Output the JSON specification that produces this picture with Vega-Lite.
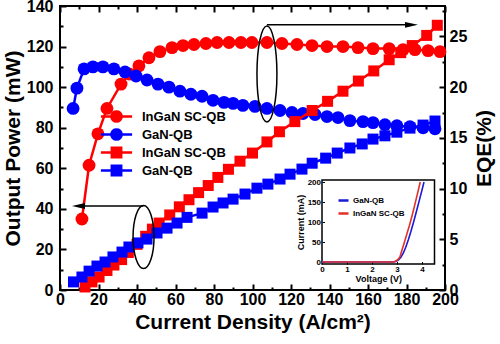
{
  "$schema": "https://vega.github.io/schema/vega-lite/v6.json",
  "width": 385,
  "height": 284,
  "autosize": "none",
  "padding": {"left": 60, "top": 6, "right": 55, "bottom": 54},
  "background": "white",
  "config": {
    "font": "Liberation Sans",
    "view": {"stroke": "#000", "strokeWidth": 2},
    "axis": {"domain": false, "grid": false, "tickColor": "#000", "tickWidth": 2, "labelFont": "Liberation Sans", "labelFontWeight": "bold", "labelColor": "#000", "titleFont": "Liberation Sans", "titleFontWeight": "bold", "titleColor": "#000", "labelFlush": false, "labelOverlap": false}
  },
  "datasets": {
    "power": [
      {"s": "InGaN SC-QB (P)", "x": 13, "y": 1.5}, {"s": "InGaN SC-QB (P)", "x": 16.6, "y": 4}, {"s": "InGaN SC-QB (P)", "x": 20.3, "y": 6.4}, {"s": "InGaN SC-QB (P)", "x": 24.4, "y": 9.6}, {"s": "InGaN SC-QB (P)", "x": 28, "y": 12.3}, {"s": "InGaN SC-QB (P)", "x": 32, "y": 15}, {"s": "InGaN SC-QB (P)", "x": 35.5, "y": 18.5}, {"s": "InGaN SC-QB (P)", "x": 40, "y": 22.5}, {"s": "InGaN SC-QB (P)", "x": 44.5, "y": 26.5}, {"s": "InGaN SC-QB (P)", "x": 48, "y": 30}, {"s": "InGaN SC-QB (P)", "x": 51.5, "y": 33}, {"s": "InGaN SC-QB (P)", "x": 57, "y": 37}, {"s": "InGaN SC-QB (P)", "x": 62, "y": 41}, {"s": "InGaN SC-QB (P)", "x": 67, "y": 44.5}, {"s": "InGaN SC-QB (P)", "x": 72, "y": 48}, {"s": "InGaN SC-QB (P)", "x": 77, "y": 51.5}, {"s": "InGaN SC-QB (P)", "x": 82, "y": 55.5}, {"s": "InGaN SC-QB (P)", "x": 87.5, "y": 59.5}, {"s": "InGaN SC-QB (P)", "x": 93.5, "y": 63.5}, {"s": "InGaN SC-QB (P)", "x": 100, "y": 67.5}, {"s": "InGaN SC-QB (P)", "x": 107.5, "y": 73}, {"s": "InGaN SC-QB (P)", "x": 114, "y": 78}, {"s": "InGaN SC-QB (P)", "x": 122, "y": 83}, {"s": "InGaN SC-QB (P)", "x": 131, "y": 88.5}, {"s": "InGaN SC-QB (P)", "x": 139, "y": 93}, {"s": "InGaN SC-QB (P)", "x": 147, "y": 98}, {"s": "InGaN SC-QB (P)", "x": 155, "y": 103}, {"s": "InGaN SC-QB (P)", "x": 163, "y": 108}, {"s": "InGaN SC-QB (P)", "x": 171, "y": 113.5}, {"s": "InGaN SC-QB (P)", "x": 177, "y": 117}, {"s": "InGaN SC-QB (P)", "x": 183, "y": 120.5}, {"s": "InGaN SC-QB (P)", "x": 190.5, "y": 125.5}, {"s": "InGaN SC-QB (P)", "x": 196, "y": 130.5},
      {"s": "GaN-QB (P)", "x": 7, "y": 4}, {"s": "GaN-QB (P)", "x": 11.4, "y": 6.4}, {"s": "GaN-QB (P)", "x": 15.1, "y": 9.3}, {"s": "GaN-QB (P)", "x": 19.2, "y": 11.8}, {"s": "GaN-QB (P)", "x": 23.4, "y": 13.8}, {"s": "GaN-QB (P)", "x": 27.5, "y": 16.3}, {"s": "GaN-QB (P)", "x": 32.2, "y": 18.7}, {"s": "GaN-QB (P)", "x": 35.8, "y": 21.2}, {"s": "GaN-QB (P)", "x": 40.5, "y": 23.2}, {"s": "GaN-QB (P)", "x": 45.2, "y": 25.1}, {"s": "GaN-QB (P)", "x": 50.4, "y": 28.1}, {"s": "GaN-QB (P)", "x": 55.6, "y": 30.5}, {"s": "GaN-QB (P)", "x": 60.8, "y": 33}, {"s": "GaN-QB (P)", "x": 66, "y": 35.8}, {"s": "GaN-QB (P)", "x": 73.8, "y": 37.9}, {"s": "GaN-QB (P)", "x": 79.5, "y": 40.9}, {"s": "GaN-QB (P)", "x": 84.7, "y": 42.9}, {"s": "GaN-QB (P)", "x": 89.9, "y": 44.8}, {"s": "GaN-QB (P)", "x": 96.1, "y": 47.3}, {"s": "GaN-QB (P)", "x": 102.3, "y": 50.2}, {"s": "GaN-QB (P)", "x": 108, "y": 52.2}, {"s": "GaN-QB (P)", "x": 114.3, "y": 54.7}, {"s": "GaN-QB (P)", "x": 119.5, "y": 57.1}, {"s": "GaN-QB (P)", "x": 125.7, "y": 59.6}, {"s": "GaN-QB (P)", "x": 131, "y": 62.5}, {"s": "GaN-QB (P)", "x": 138, "y": 65}, {"s": "GaN-QB (P)", "x": 144, "y": 67.5}, {"s": "GaN-QB (P)", "x": 150.6, "y": 70}, {"s": "GaN-QB (P)", "x": 157, "y": 72}, {"s": "GaN-QB (P)", "x": 162.6, "y": 74.4}, {"s": "GaN-QB (P)", "x": 168.8, "y": 76}, {"s": "GaN-QB (P)", "x": 175, "y": 77.8}, {"s": "GaN-QB (P)", "x": 181.8, "y": 79.8}, {"s": "GaN-QB (P)", "x": 188.6, "y": 81.3}, {"s": "GaN-QB (P)", "x": 194.8, "y": 83.3}
    ],
    "eqe": [
      {"s": "InGaN SC-QB (EQE)", "x": 11.4, "y": 7.0}, {"s": "InGaN SC-QB (EQE)", "x": 15.1, "y": 12.3}, {"s": "InGaN SC-QB (EQE)", "x": 19.7, "y": 15.4}, {"s": "InGaN SC-QB (EQE)", "x": 24.4, "y": 17.9}, {"s": "InGaN SC-QB (EQE)", "x": 31.7, "y": 20.3}, {"s": "InGaN SC-QB (EQE)", "x": 36, "y": 21.3}, {"s": "InGaN SC-QB (EQE)", "x": 41, "y": 22.1}, {"s": "InGaN SC-QB (EQE)", "x": 46.2, "y": 22.9}, {"s": "InGaN SC-QB (EQE)", "x": 51.9, "y": 23.5}, {"s": "InGaN SC-QB (EQE)", "x": 58.2, "y": 23.9}, {"s": "InGaN SC-QB (EQE)", "x": 63.9, "y": 24.1}, {"s": "InGaN SC-QB (EQE)", "x": 69.6, "y": 24.2}, {"s": "InGaN SC-QB (EQE)", "x": 75.8, "y": 24.3}, {"s": "InGaN SC-QB (EQE)", "x": 81.6, "y": 24.4}, {"s": "InGaN SC-QB (EQE)", "x": 87.8, "y": 24.4}, {"s": "InGaN SC-QB (EQE)", "x": 94, "y": 24.4}, {"s": "InGaN SC-QB (EQE)", "x": 99.7, "y": 24.4}, {"s": "InGaN SC-QB (EQE)", "x": 107.5, "y": 24.4}, {"s": "InGaN SC-QB (EQE)", "x": 115.3, "y": 24.3}, {"s": "InGaN SC-QB (EQE)", "x": 123.1, "y": 24.2}, {"s": "InGaN SC-QB (EQE)", "x": 130.9, "y": 24.1}, {"s": "InGaN SC-QB (EQE)", "x": 138.7, "y": 24.0}, {"s": "InGaN SC-QB (EQE)", "x": 147, "y": 24.0}, {"s": "InGaN SC-QB (EQE)", "x": 154.8, "y": 23.9}, {"s": "InGaN SC-QB (EQE)", "x": 162.6, "y": 23.8}, {"s": "InGaN SC-QB (EQE)", "x": 171, "y": 23.8}, {"s": "InGaN SC-QB (EQE)", "x": 178.2, "y": 23.7}, {"s": "InGaN SC-QB (EQE)", "x": 184.4, "y": 23.7}, {"s": "InGaN SC-QB (EQE)", "x": 191.2, "y": 23.6}, {"s": "InGaN SC-QB (EQE)", "x": 197.4, "y": 23.5},
      {"s": "GaN-QB (EQE)", "x": 6.8, "y": 17.9}, {"s": "GaN-QB (EQE)", "x": 8.8, "y": 19.9}, {"s": "GaN-QB (EQE)", "x": 12.5, "y": 21.8}, {"s": "GaN-QB (EQE)", "x": 17.1, "y": 22.0}, {"s": "GaN-QB (EQE)", "x": 22.3, "y": 22.0}, {"s": "GaN-QB (EQE)", "x": 28, "y": 21.8}, {"s": "GaN-QB (EQE)", "x": 33.8, "y": 21.5}, {"s": "GaN-QB (EQE)", "x": 39.5, "y": 21.1}, {"s": "GaN-QB (EQE)", "x": 45.2, "y": 20.7}, {"s": "GaN-QB (EQE)", "x": 50.9, "y": 20.3}, {"s": "GaN-QB (EQE)", "x": 56.6, "y": 20.0}, {"s": "GaN-QB (EQE)", "x": 62.3, "y": 19.6}, {"s": "GaN-QB (EQE)", "x": 68, "y": 19.3}, {"s": "GaN-QB (EQE)", "x": 73.8, "y": 19.1}, {"s": "GaN-QB (EQE)", "x": 79.5, "y": 18.7}, {"s": "GaN-QB (EQE)", "x": 85.2, "y": 18.5}, {"s": "GaN-QB (EQE)", "x": 89.9, "y": 18.4}, {"s": "GaN-QB (EQE)", "x": 95, "y": 18.2}, {"s": "GaN-QB (EQE)", "x": 101.3, "y": 18.1}, {"s": "GaN-QB (EQE)", "x": 107.5, "y": 17.9}, {"s": "GaN-QB (EQE)", "x": 114.3, "y": 17.7}, {"s": "GaN-QB (EQE)", "x": 120.5, "y": 17.5}, {"s": "GaN-QB (EQE)", "x": 126.2, "y": 17.4}, {"s": "GaN-QB (EQE)", "x": 132.5, "y": 17.3}, {"s": "GaN-QB (EQE)", "x": 138.7, "y": 17.1}, {"s": "GaN-QB (EQE)", "x": 144.4, "y": 17.0}, {"s": "GaN-QB (EQE)", "x": 150.6, "y": 16.7}, {"s": "GaN-QB (EQE)", "x": 157.4, "y": 16.6}, {"s": "GaN-QB (EQE)", "x": 162.6, "y": 16.5}, {"s": "GaN-QB (EQE)", "x": 168.8, "y": 16.3}, {"s": "GaN-QB (EQE)", "x": 175, "y": 16.2}, {"s": "GaN-QB (EQE)", "x": 181.8, "y": 16.1}, {"s": "GaN-QB (EQE)", "x": 188.6, "y": 16.0}, {"s": "GaN-QB (EQE)", "x": 194.8, "y": 15.9}
    ],
    "iv": [
      {"s": "GaN-QB", "v": 0, "i": 0}, {"s": "GaN-QB", "v": 2.85, "i": 0}, {"s": "GaN-QB", "v": 2.95, "i": 1.5}, {"s": "GaN-QB", "v": 3.05, "i": 5}, {"s": "GaN-QB", "v": 3.15, "i": 11}, {"s": "GaN-QB", "v": 3.25, "i": 22}, {"s": "GaN-QB", "v": 3.35, "i": 37}, {"s": "GaN-QB", "v": 3.45, "i": 55}, {"s": "GaN-QB", "v": 3.55, "i": 75}, {"s": "GaN-QB", "v": 3.65, "i": 97}, {"s": "GaN-QB", "v": 3.7, "i": 108}, {"s": "GaN-QB", "v": 3.8, "i": 132}, {"s": "GaN-QB", "v": 3.9, "i": 156}, {"s": "GaN-QB", "v": 4.0, "i": 180}, {"s": "GaN-QB", "v": 4.08, "i": 200},
      {"s": "InGaN SC-QB", "v": 0, "i": 0}, {"s": "InGaN SC-QB", "v": 2.85, "i": 0}, {"s": "InGaN SC-QB", "v": 2.95, "i": 2}, {"s": "InGaN SC-QB", "v": 3.05, "i": 7}, {"s": "InGaN SC-QB", "v": 3.12, "i": 13}, {"s": "InGaN SC-QB", "v": 3.2, "i": 30}, {"s": "InGaN SC-QB", "v": 3.3, "i": 50}, {"s": "InGaN SC-QB", "v": 3.4, "i": 71}, {"s": "InGaN SC-QB", "v": 3.5, "i": 92}, {"s": "InGaN SC-QB", "v": 3.6, "i": 115}, {"s": "InGaN SC-QB", "v": 3.7, "i": 140}, {"s": "InGaN SC-QB", "v": 3.8, "i": 166}, {"s": "InGaN SC-QB", "v": 3.9, "i": 192}, {"s": "InGaN SC-QB", "v": 3.93, "i": 200}
    ]
  },
  "layer": [
    {
      "layer": [
        {
          "data": {"name": "eqe"},
          "layer": [
            {
              "mark": {"type": "line", "strokeWidth": 2.5},
              "encoding": {
                "x": {"field": "x", "type": "quantitative", "scale": {"domain": [0, 200], "nice": false}, "axis": {"orient": "top", "values": [0, 20, 40, 60, 80, 100, 120, 140, 160, 180, 200], "tickSize": -6, "labels": false, "title": null}},
                "y": {"field": "y", "type": "quantitative", "scale": {"domain": [0, 28], "nice": false}, "axis": {"orient": "right", "values": [0, 5, 10, 15, 20, 25], "tickSize": -6, "labelPadding": 10, "labelFontSize": 16, "title": "EQE(%)", "titleFontSize": 21, "titleAngle": -90, "titleBaseline": "top", "titlePadding": 7}},
                "color": {"field": "s", "type": "nominal",
                  "scale": {"domain": ["InGaN SC-QB (EQE)", "GaN-QB (EQE)", "InGaN SC-QB (P)", "GaN-QB (P)"], "range": ["#ff0000", "#0000ff", "#ff0000", "#0000ff"]},
                  "legend": {"orient": "none", "legendX": 40, "legendY": 103, "title": null, "padding": 0,
                    "labelExpr": "split(datum.label, ' (')[0]", "labelFontSize": 13, "labelFontWeight": "bold", "labelFont": "Liberation Sans", "labelColor": "#000",
                    "symbolSize": 144, "symbolOffset": 9, "labelOffset": 18, "rowPadding": -5,
                    "encode": {"symbols": {"update": {
                      "shape": {"signal": "indexof(datum.value, 'EQE') >= 0 ? 'M-2.6,0H2.6M0.85,0L0.785,0.326L0.601,0.601L0.326,0.785L0,0.85L-0.326,0.785L-0.601,0.601L-0.785,0.326L-0.85,0L-0.785,-0.326L-0.601,-0.601L-0.326,-0.785L0,-0.85L0.326,-0.785L0.601,-0.601L0.785,-0.326Z' : 'M-2.6,0H2.6M-0.78,-0.78H0.78V0.78H-0.78Z'"},
                      "fill": {"signal": "indexof(datum.value, 'InGaN') >= 0 ? '#ff0000' : '#0000ff'"},
                      "stroke": {"signal": "indexof(datum.value, 'InGaN') >= 0 ? '#ff0000' : '#0000ff'"},
                      "strokeWidth": {"value": 2.5},
                      "opacity": {"value": 1},
                      "fillOpacity": {"value": 1}
                    }}}
                  }
                }
              }
            },
            {
              "mark": {"type": "point", "shape": "circle", "filled": true, "opacity": 1, "size": 165},
              "encoding": {
                "x": {"field": "x", "type": "quantitative", "scale": {"domain": [0, 200], "nice": false}, "axis": {"orient": "top", "values": [10, 30, 50, 70, 90, 110, 130, 150, 170, 190], "tickSize": -3, "labels": false, "title": null}},
                "y": {"field": "y", "type": "quantitative", "scale": {"domain": [0, 28], "nice": false}, "axis": {"orient": "right", "values": [2.5, 7.5, 12.5, 17.5, 22.5, 27.5], "tickSize": -3, "labels": false, "title": null}},
                "color": {"field": "s", "type": "nominal"}
              }
            },
            {
              "data": {"values": [{}]},
              "mark": {"type": "rule", "strokeWidth": 1.5, "color": "#000"},
              "encoding": {
                "x": {"datum": 107.5, "type": "quantitative", "axis": null},
                "x2": {"datum": 182.6},
                "y": {"datum": 26.14, "type": "quantitative", "axis": null}
              }
            },
            {
              "data": {"values": [{}]},
              "mark": {"type": "point", "shape": "M1,0L-1,-0.45L-1,0.45Z", "filled": true, "color": "#000", "opacity": 1, "size": 169},
              "encoding": {
                "x": {"datum": 182.6, "type": "quantitative", "axis": null},
                "y": {"datum": 26.14, "type": "quantitative", "axis": null}
              }
            },
            {
              "data": {"values": [{}]},
              "mark": {"type": "point", "shape": "M0,-1A0.208,1,0,1,1,0,1A0.208,1,0,1,1,0,-1Z", "filled": false, "color": "#000", "strokeWidth": 1.5, "opacity": 1, "size": 9216},
              "encoding": {
                "x": {"datum": 107.5, "type": "quantitative", "axis": null},
                "y": {"datum": 21.3, "type": "quantitative", "axis": null}
              }
            }
          ],
          "resolve": {"axis": {"x": "independent", "y": "independent"}}
        },
        {
          "data": {"name": "power"},
          "layer": [
            {
              "mark": {"type": "line", "strokeWidth": 2.5},
              "encoding": {
                "x": {"field": "x", "type": "quantitative", "scale": {"domain": [0, 200], "nice": false}, "axis": {"orient": "bottom", "values": [0, 20, 40, 60, 80, 100, 120, 140, 160, 180, 200], "tickSize": -6, "labelPadding": 7, "labelFontSize": 16, "title": "Current Density (A/cm²)", "titleFontSize": 21, "titlePadding": 4}},
                "y": {"field": "y", "type": "quantitative", "scale": {"domain": [0, 140], "nice": false}, "axis": {"orient": "left", "values": [0, 20, 40, 60, 80, 100, 120, 140], "tickSize": -6, "labelPadding": 13, "labelFontSize": 16, "title": "Output Power (mW)", "titleFontSize": 21, "titlePadding": 3}},
                "color": {"field": "s", "type": "nominal"}
              }
            },
            {
              "mark": {"type": "point", "shape": "square", "filled": true, "opacity": 1, "size": 121},
              "encoding": {
                "x": {"field": "x", "type": "quantitative", "scale": {"domain": [0, 200], "nice": false}, "axis": {"orient": "bottom", "values": [10, 30, 50, 70, 90, 110, 130, 150, 170, 190], "tickSize": -3, "labels": false, "title": null}},
                "y": {"field": "y", "type": "quantitative", "scale": {"domain": [0, 140], "nice": false}, "axis": {"orient": "left", "values": [10, 30, 50, 70, 90, 110, 130], "tickSize": -3, "labels": false, "title": null}},
                "color": {"field": "s", "type": "nominal"}
              }
            },
            {
              "data": {"values": [{}]},
              "mark": {"type": "rule", "strokeWidth": 1.5, "color": "#000"},
              "encoding": {
                "x": {"datum": 9.6, "type": "quantitative", "axis": null},
                "x2": {"datum": 43.3},
                "y": {"datum": 41.4, "type": "quantitative", "axis": null}
              }
            },
            {
              "data": {"values": [{}]},
              "mark": {"type": "point", "shape": "M-1,0L1,-0.45L1,0.45Z", "filled": true, "color": "#000", "opacity": 1, "size": 169},
              "encoding": {
                "x": {"datum": 9.6, "type": "quantitative", "axis": null},
                "y": {"datum": 41.4, "type": "quantitative", "axis": null}
              }
            },
            {
              "data": {"values": [{}]},
              "mark": {"type": "point", "shape": "M0,-1A0.333,1,0,1,1,0,1A0.333,1,0,1,1,0,-1Z", "filled": false, "color": "#000", "strokeWidth": 1.5, "opacity": 1, "size": 3969},
              "encoding": {
                "x": {"datum": 43.4, "type": "quantitative", "axis": null},
                "y": {"datum": 26.1, "type": "quantitative", "axis": null}
              }
            }
          ],
          "resolve": {"axis": {"x": "independent", "y": "independent"}}
        }
      ],
      "resolve": {"scale": {"y": "independent"}, "axis": {"x": "independent"}}
    },
    {
      "layer": [
        {
          "data": {"values": [{}]},
          "mark": {"type": "rect", "filled": false, "color": "#000", "strokeWidth": 1.5},
          "encoding": {
            "x": {"datum": 0, "type": "quantitative", "scale": {"domain": [0, 4.5], "range": [262, 374.5], "nice": false, "zero": false}, "axis": null},
            "x2": {"datum": 4.5},
            "y": {"datum": -5, "type": "quantitative", "scale": {"domain": [-5, 205], "range": [258, 174], "nice": false, "zero": false}, "axis": null},
            "y2": {"datum": 205}
          }
        },
        {
          "data": {"name": "iv"},
          "mark": {"type": "line", "strokeWidth": 1.6},
          "encoding": {
            "x": {"field": "v", "type": "quantitative", "scale": {"domain": [0, 4.5], "range": [262, 374.5], "nice": false, "zero": false},
              "axis": {"orient": "bottom", "offset": -26, "values": [0, 1, 2, 3, 4], "tickSize": -2.5, "tickWidth": 1, "labelPadding": 4, "labelFontSize": 8, "title": "Voltage (V)", "titleFontSize": 9, "titlePadding": 1}},
            "y": {"field": "i", "type": "quantitative", "scale": {"domain": [-5, 205], "range": [258, 174], "nice": false, "zero": false},
              "axis": {"orient": "left", "offset": -262, "values": [0, 50, 100, 150, 200], "tickSize": -2.5, "tickWidth": 1, "labelPadding": 4, "labelFontSize": 8, "title": "Current (mA)", "titleFontSize": 9, "titlePadding": 2}},
            "color": {"field": "s", "type": "nominal", "scale": {"domain": ["GaN-QB", "InGaN SC-QB"], "range": ["#1a1ad8", "#e3302a"]},
              "legend": {"orient": "none", "legendX": 277, "legendY": 188, "title": null, "padding": 0, "symbolType": "stroke", "symbolStrokeWidth": 2.5, "symbolSize": 100, "labelFontSize": 8, "labelFontWeight": "bold", "labelColor": "#000", "labelOffset": 3, "rowPadding": 1}}
          }
        }
      ],
      "resolve": {"axis": {"x": "independent", "y": "independent"}}
    }
  ],
  "resolve": {"scale": {"x": "independent", "y": "independent", "color": "independent"}}
}
